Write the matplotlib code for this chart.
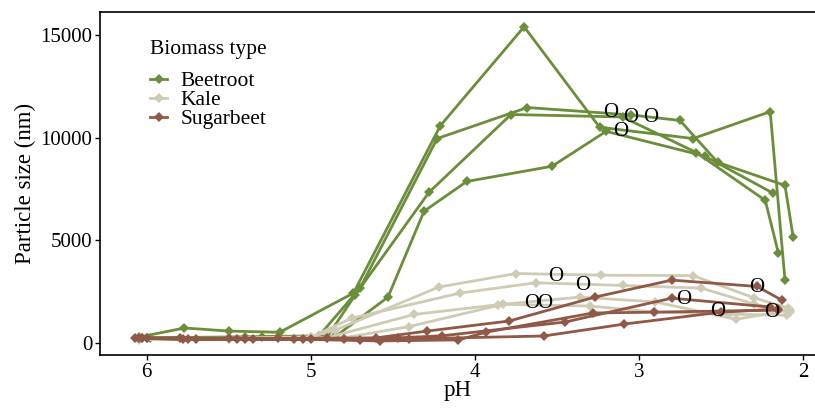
import matplotlib
matplotlib.use("Agg")
import matplotlib.pyplot as plt
from matplotlib.lines import Line2D

plt.rcParams['font.family'] = ['Liberation Serif', 'DejaVu Serif']

# Beetroot series (pH, particle size nm)
beet_ph = [
    [6.05, 5.77, 5.50, 5.19, 4.74, 4.21, 3.70, 3.24, 2.67, 2.20, 2.11],
    [6.03, 5.40, 4.95, 4.70, 4.23, 3.68, 3.05, 2.75, 2.52, 2.11, 2.06],
    [6.00, 5.30, 4.90, 4.73, 4.28, 3.78, 3.10, 2.65, 2.23, 2.15],
    [5.98, 5.20, 4.85, 4.53, 4.31, 4.05, 3.53, 3.20, 2.60, 2.18],
]
beet_val = [
    [280, 730, 580, 520, 2430, 10580, 15390, 10500, 9950, 11260, 3060],
    [250, 300, 350, 2670, 9950, 11460, 11100, 10830, 8790, 7670, 5150],
    [250, 280, 300, 2330, 7330, 11120, 11000, 9270, 6940, 4370],
    [220, 280, 320, 2230, 6410, 7860, 8600, 10300, 9100, 7280],
]

# Kale series
kale_ph = [
    [6.05, 5.50, 5.00, 4.85, 4.22, 3.75, 3.23, 2.67, 2.30, 2.09],
    [6.05, 5.50, 5.00, 4.75, 4.09, 3.63, 3.10, 2.62, 2.30, 2.08],
    [6.05, 5.50, 4.90, 4.37, 3.86, 3.36, 2.90, 2.41, 2.08],
    [6.05, 5.50, 4.80, 4.40, 3.83, 3.30, 2.90, 2.45, 2.10],
]
kale_val = [
    [220, 230, 300, 630, 2720, 3380, 3300, 3280, 2200, 1700],
    [200, 220, 280, 1210, 2430, 2930, 2800, 2670, 1900, 1500],
    [180, 200, 260, 1390, 1860, 2230, 2000, 1150, 1600],
    [160, 180, 250, 800, 1880, 1800, 1500, 1400, 1350],
]

# Sugarbeet series
sugar_ph = [
    [6.07, 5.80, 5.50, 5.20, 4.90, 4.60, 4.29, 3.79, 3.27, 2.80, 2.28, 2.13],
    [6.05, 5.78, 5.45, 5.10, 4.80, 4.47, 4.20, 3.45, 2.80, 2.20],
    [6.03, 5.75, 5.40, 5.05, 4.58, 4.10, 3.93, 3.28, 2.91, 2.15],
    [6.00, 5.70, 5.35, 5.00, 4.70, 4.40, 3.58, 3.09, 2.50, 2.15],
]
sugar_val = [
    [250, 230, 220, 220, 230, 250, 580, 1070, 2230, 3060, 2750, 2090],
    [240, 200, 200, 200, 200, 250, 350, 1020, 2180, 1750],
    [230, 180, 180, 180, 100, 150, 530, 1460, 1500, 1600],
    [220, 170, 170, 170, 150, 200, 340, 920, 1500, 1650],
]

# open circle annotations
circ_ph = [3.17, 3.05, 3.11, 2.93, 3.51, 3.34, 3.655, 3.575, 2.28, 2.73, 2.52, 2.19]
circ_val = [11210, 10970, 10290, 10970, 3250, 2820, 1940, 1940, 2720, 2140, 1550, 1500]

groups = ['Beetroot', 'Kale', 'Sugarbeet']
colors = {'Beetroot': '#6b8e3a', 'Kale': '#cfcbb4', 'Sugarbeet': '#8f5847'}

fig = plt.figure(figsize=(8.15, 4.08), dpi=100)
ax = fig.add_axes([0.1227, 0.130, 0.8773, 0.841])

for name, phs, vals in [('Beetroot', beet_ph, beet_val),
                        ('Kale', kale_ph, kale_val),
                        ('Sugarbeet', sugar_ph, sugar_val)]:
    for x, y in zip(phs, vals):
        ax.plot(x, y, color=colors[name], linewidth=2.0, marker='D',
                markersize=5.5, markeredgewidth=0)

for x, y in zip(circ_ph, circ_val):
    ax.text(x, y, 'O', ha='center', va='center', fontsize=15, color='black')

ax.set_xlim(6.285, 1.927)
ax.set_ylim(-583, 16117)
ax.set_xticks([6, 5, 4, 3, 2])
ax.set_yticks([0, 5000, 10000, 15000])
ax.tick_params(labelsize=15, length=3.5, width=1, pad=2, colors='black')
ax.set_xlabel('pH', fontsize=16.5, labelpad=-1)
ax.set_ylabel('Particle size (nm)', fontsize=16.5, labelpad=3)
ax.spines['right'].set_visible(False)
for s in ['left', 'bottom', 'top']:
    ax.spines[s].set_linewidth(1.2)

handles = [Line2D([0], [0], color=colors[g], linewidth=2.0, marker='D',
                  markersize=5.5, markeredgewidth=0) for g in groups]
leg = ax.legend(handles, groups, title='Biomass type', loc='upper left',
                bbox_to_anchor=(0.043, 0.975), frameon=False, fontsize=15.5,
                title_fontsize=15.5, handlelength=0.8, handletextpad=0.6,
                labelspacing=-0.05, alignment='left')
leg._legend_box.sep = 9

fig.savefig('out.png', dpi=100)
